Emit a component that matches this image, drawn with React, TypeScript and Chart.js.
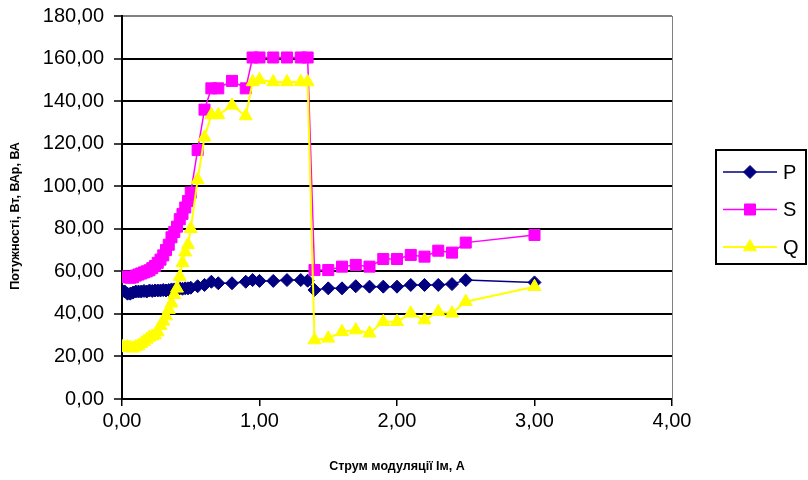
import React, { useEffect, useRef } from "react";
import { Chart, registerables } from "chart.js";
import { drawPoint } from "chart.js/helpers";

Chart.register(...registerables);

const currents = [
  0, 0.02, 0.04, 0.06, 0.08, 0.1, 0.12, 0.14, 0.16, 0.18,
  0.2, 0.22, 0.24, 0.26, 0.28, 0.3, 0.32, 0.34, 0.36, 0.38,
  0.4, 0.42, 0.44, 0.46, 0.48, 0.5, 0.55, 0.6, 0.65, 0.7,
  0.8, 0.9, 0.95, 1.0, 1.1, 1.2, 1.3, 1.35, 1.4, 1.5,
  1.6, 1.7, 1.8, 1.9, 2.0, 2.1, 2.2, 2.3, 2.4, 2.5,
  3.0,
];

const pValues = [
  51.0, 50.5, 49.5, 49.5, 50.0, 50.5, 50.5, 50.5, 50.8, 50.5,
  51.0, 50.8, 51.0, 51.0, 51.0, 51.2, 51.0, 51.2, 51.5, 51.5,
  51.5, 52.0, 51.8, 52.0, 52.0, 52.3, 53.0, 53.6, 55.1, 54.4,
  54.4, 55.1, 55.9, 55.5, 55.5, 55.9, 55.9, 55.6, 51.2, 52.0,
  52.0, 53.0, 52.8, 52.8, 52.8, 53.6, 53.6, 53.6, 54.0, 55.9,
  54.8,
];

const sValues = [
  57.5, 57.5, 57.3, 57.0, 57.2, 58.0, 58.5, 59.0, 59.5, 60.0,
  60.5, 61.5, 62.5, 64.0, 65.5, 67.5, 70.0, 72.5, 76.0, 78.5,
  81.0, 84.5, 87.0, 90.0, 93.0, 97.0, 117.0, 136.0, 146.0, 146.0,
  149.5, 146.0, 160.5, 160.5, 160.5, 160.5, 160.5, 160.5, 60.6, 60.6,
  62.2, 63.0, 62.2, 65.8, 65.8, 67.7, 66.9, 69.7, 68.8, 73.5,
  77.1,
];

const qValues = [
  24.6, 24.0, 24.5, 24.2, 23.8, 24.5, 25.0, 26.0, 27.0, 28.0,
  29.0, 29.5, 30.0, 31.5, 34.5, 36.5, 39.0, 42.0, 45.0, 49.0,
  52.0, 57.5, 64.0, 69.0, 72.5, 80.0, 103.0, 123.0, 133.5, 133.5,
  138.0, 133.0, 149.0, 150.0, 149.0, 149.0, 149.0, 149.0, 27.7, 28.5,
  31.6, 32.4, 30.9, 36.3, 36.3, 40.3, 37.1, 41.0, 40.3, 45.7,
  52.8,
];

const seriesLabels = ["P", "S", "Q"];
const yTitle = "Потужності, Вт, ВАр, ВА";
const xTitle = "Струм модуляції Ім, А";

const FONT = "'Liberation Sans', Arial, sans-serif";

const toPoints = (ys: number[]) => currents.map((x, i) => ({ x, y: ys[i] }));
const fmt = (v: number) => v.toFixed(2).replace(".", ",");

const boxLegend = {
  id: "boxLegend",
  afterDraw(chart: any) {
    const ctx = chart.ctx;
    ctx.save();
    const a = chart.chartArea;
    ctx.strokeStyle = "#808080";
    ctx.lineWidth = 1;
    ctx.beginPath();
    ctx.moveTo(a.right + 0.5, a.top);
    ctx.lineTo(a.right + 0.5, a.bottom);
    ctx.stroke();

    // y axis title
    ctx.save();
    ctx.translate(16, 216);
    ctx.rotate(-Math.PI / 2);
    ctx.fillStyle = "#000";
    ctx.font = `bold 12.5px ${FONT}`;
    ctx.textAlign = "center";
    ctx.textBaseline = "middle";
    ctx.fillText(yTitle, 0, 0);
    ctx.restore();

    ctx.strokeStyle = "#000";
    ctx.lineWidth = 2;
    ctx.strokeRect(716, 150, 90, 114);
    chart.data.datasets.forEach((ds: any, i: number) => {
      const y = 172 + i * 37.5;
      ctx.strokeStyle = ds.borderColor;
      ctx.lineWidth = ds.borderWidth;
      ctx.beginPath();
      ctx.moveTo(723, y);
      ctx.lineTo(777, y);
      ctx.stroke();
      ctx.fillStyle = ds.pointBackgroundColor;
      ctx.strokeStyle = ds.pointBorderColor;
      ctx.lineWidth = 1;
      drawPoint(ctx, { pointStyle: ds.pointStyle, radius: ds.pointRadius, rotation: 0, borderWidth: 1 } as any, 750, y);
      ctx.fillStyle = "#000";
      ctx.font = `20px ${FONT}`;
      ctx.textBaseline = "middle";
      ctx.textAlign = "left";
      ctx.fillText(ds.label, 783, y + 1);
    });
    ctx.restore();
  },
};

export default function App() {
  const ref = useRef<HTMLCanvasElement | null>(null);
  useEffect(() => {
    if (!ref.current) return;
    const mk = (label: string, data: number[], color: string, style: string, r: number, w: number, order: number) => ({
      label,
      data: toPoints(data),
      showLine: true,
      borderColor: color,
      backgroundColor: color,
      pointBackgroundColor: color,
      pointBorderColor: color,
      pointStyle: style,
      pointRadius: r,
      pointBorderWidth: 1,
      borderWidth: w,
      tension: 0,
      order,
    });
    const chart = new Chart(ref.current, {
      type: "scatter",
      data: {
        datasets: [
          mk(seriesLabels[0], pValues, "#000080", "rectRot", 6.5, 1.5, 3),
          mk(seriesLabels[1], sValues, "#FF00FF", "rect", 7.8, 1.5, 2),
          mk(seriesLabels[2], qValues, "#FFFF00", "triangle", 7.5, 2, 1),
        ] as any,
      },
      options: {
        animation: false,
        responsive: true,
        maintainAspectRatio: false,
        layout: { padding: { top: 16, right: 136, left: 0, bottom: 0 } },
        plugins: { legend: { display: false }, tooltip: { enabled: false } },
        scales: {
          x: {
            type: "linear",
            min: 0,
            max: 4,
            afterFit: (s: any) => { s.height = 81; },
            ticks: { stepSize: 1, callback: (v: any) => fmt(Number(v)), color: "#000", font: { family: FONT, size: 20, lineHeight: 1.2 }, padding: 3, maxRotation: 0 },
            grid: { drawOnChartArea: false, drawTicks: true, tickLength: 7, color: "#000", lineWidth: 1.5 },
            border: { display: true, color: "#000", width: 2 },
            title: { display: true, text: xTitle, color: "#000", font: { family: FONT, size: 12.5, weight: "bold" }, padding: { top: 0, bottom: 6 } },
          },
          y: {
            type: "linear",
            min: 0,
            max: 180,
            afterFit: (s: any) => { s.width = 122; },
            ticks: { stepSize: 20, callback: (v: any) => fmt(Number(v)), color: "#000", font: { family: FONT, size: 20, lineHeight: 0.6 }, padding: 10 },
            grid: {
              color: (c: any) => (c.tick && c.tick.value === 180 ? "#808080" : "#000"),
              lineWidth: 2,
              tickLength: 8,
              tickColor: "#000",
              tickWidth: 1.5,
            },
            border: { display: true, color: "#000", width: 2 },
            title: { display: false },
          },
        },
      } as any,
      plugins: [boxLegend],
    });
    return () => chart.destroy();
  }, []);
  return (
    <div style={{ position: "absolute", left: 0, top: 0, width: 808, height: 480, background: "#fff" }}>
      <canvas ref={ref} />
    </div>
  );
}
